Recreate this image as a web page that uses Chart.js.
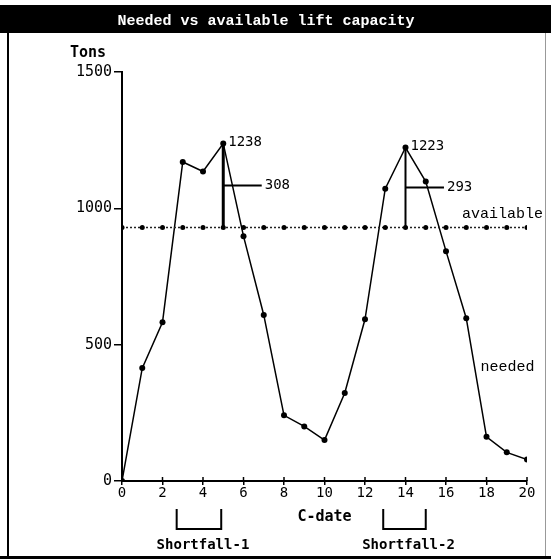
<!DOCTYPE html>
<html>
<head>
<meta charset="utf-8">
<script src="https://cdn.jsdelivr.net/npm/chart.js@4"></script>
<style>
  html, body { margin: 0; padding: 0; background: #fff; }
  #wrap { width: 551px; height: 559px; }
</style>
</head>
<body>
<div id="wrap"><canvas id="lift-chart" width="551" height="559"></canvas></div>
<script>
// Chart data
const cDates = [0, 1, 2, 3, 4, 5, 6, 7, 8, 9, 10, 11, 12, 13, 14, 15, 16, 17, 18, 19, 20];
const neededTons = [0, 414, 582, 1170, 1135, 1238, 898, 609, 241, 200, 150, 323, 593, 1072, 1223, 1098, 843, 597, 162, 105, 79];
const availableTons = [930, 930, 930, 930, 930, 930, 930, 930, 930, 930, 930, 930, 930, 930, 930, 930, 930, 930, 930, 930, 930];
const xTicks = [0, 2, 4, 6, 8, 10, 12, 14, 16, 18, 20];
const yTicks = [0, 500, 1000, 1500];
const peakDates = [5, 14];
const shortfallRanges = [[2.7, 4.9], [12.9, 15.0]];
const shortfallLabels = ['Shortfall-1', 'Shortfall-2'];

const monoFont = '"DejaVu Sans Mono", monospace';
const courierFont = '"Liberation Mono", monospace';

// Frame, title bar and annotations
const decorPlugin = {
  id: 'decor',
  beforeDraw(chart) {
    const { ctx, width, height } = chart;
    ctx.save();
    ctx.fillStyle = '#fff';
    ctx.fillRect(0, 0, width, height);
    ctx.fillStyle = '#000';
    ctx.fillRect(0, 5, width, 28);
    ctx.fillRect(7, 33, 2, height - 33);
    ctx.fillRect(0, height - 3, width, 3);
    ctx.fillStyle = '#999';
    ctx.fillRect(545, 33, 1, height - 36);

    ctx.fillStyle = '#fff';
    ctx.font = 'bold 15px ' + courierFont;
    ctx.textAlign = 'center';
    ctx.textBaseline = 'middle';
    ctx.fillText('Needed vs available lift capacity', 266, 21);

    ctx.fillStyle = '#000';
    ctx.font = 'bold 15px ' + monoFont;
    ctx.textAlign = 'left';
    ctx.fillText('Tons', 70, 53);
    ctx.restore();
  },
  afterDatasetsDraw(chart) {
    const { ctx } = chart;
    const xs = chart.scales.x;
    const ys = chart.scales.y;
    ctx.save();
    ctx.strokeStyle = '#000';
    ctx.fillStyle = '#000';

    // inner half of x ticks
    ctx.lineWidth = 1.5;
    xTicks.forEach(v => {
      const px = xs.getPixelForValue(v);
      ctx.beginPath();
      ctx.moveTo(px, ys.bottom - 4);
      ctx.lineTo(px, ys.bottom);
      ctx.stroke();
    });

    // peak drop lines and shortfall pointers
    peakDates.forEach((d, k) => {
      const i = cDates.indexOf(d);
      const peak = neededTons[i];
      const avail = availableTons[i];
      const px = xs.getPixelForValue(d);
      ctx.lineWidth = k === 0 ? 3 : 2;
      ctx.beginPath();
      ctx.moveTo(px, ys.getPixelForValue(avail));
      ctx.lineTo(px, ys.getPixelForValue(peak));
      ctx.stroke();

      const midY = ys.getPixelForValue((peak + avail) / 2);
      const endX = xs.getPixelForValue(d + 1.9);
      ctx.lineWidth = 2;
      ctx.beginPath();
      ctx.moveTo(px, midY);
      ctx.lineTo(endX, midY);
      ctx.stroke();

      ctx.font = '14px ' + monoFont;
      ctx.textAlign = 'left';
      ctx.textBaseline = 'middle';
      ctx.fillText(String(peak), px + 5, ys.getPixelForValue(peak) - 1);
      ctx.fillText(String(peak - avail), endX + 3, midY);
    });

    // series labels
    ctx.font = '15px ' + courierFont;
    ctx.textAlign = 'right';
    ctx.fillText('available', xs.getPixelForValue(20) + 16, ys.getPixelForValue(availableTons[20]) - 13);
    ctx.textAlign = 'left';
    ctx.fillText('needed', xs.getPixelForValue(17.7), ys.getPixelForValue(419));

    // x axis title
    ctx.font = 'bold 15px ' + monoFont;
    ctx.textAlign = 'center';
    ctx.fillText('C-date', (xs.left + xs.right) / 2, ys.bottom + 36);

    // shortfall brackets
    shortfallRanges.forEach((r, k) => {
      const x1 = xs.getPixelForValue(r[0]);
      const x2 = xs.getPixelForValue(r[1]);
      const top = ys.bottom + 28;
      const bot = ys.bottom + 48;
      ctx.lineWidth = 2;
      ctx.beginPath();
      ctx.moveTo(x1, top);
      ctx.lineTo(x1, bot);
      ctx.lineTo(x2, bot);
      ctx.lineTo(x2, top);
      ctx.stroke();
      ctx.font = 'bold 14px ' + monoFont;
      ctx.textAlign = 'center';
      ctx.fillText(shortfallLabels[k], (x1 + x2) / 2 + 4, ys.bottom + 64);
    });
    ctx.restore();
  }
};

const ctx = document.getElementById('lift-chart').getContext('2d');

new Chart(ctx, {
  type: 'line',
  data: {
    datasets: [
      {
        label: 'available',
        data: cDates.map((d, i) => ({ x: d, y: availableTons[i] })),
        borderColor: '#222',
        borderWidth: 1.5,
        borderDash: [2, 2],
        pointRadius: 2.5,
        pointBackgroundColor: '#000',
        pointBorderColor: '#000',
        pointBorderWidth: 0,
        tension: 0
      },
      {
        label: 'needed',
        data: cDates.map((d, i) => ({ x: d, y: neededTons[i] })),
        borderColor: '#000',
        borderWidth: 1.5,
        pointStyle: 'circle',
        pointRadius: 3,
        pointBackgroundColor: '#000',
        pointBorderColor: '#000',
        pointBorderWidth: 0,
        tension: 0
      }
    ]
  },
  options: {
    responsive: false,
    animation: false,
    events: [],
    layout: { padding: { top: 72, right: 24, left: 0, bottom: 0 } },
    scales: {
      x: {
        type: 'linear',
        min: 0,
        max: 20,
        afterBuildTicks: scale => { scale.ticks = xTicks.map(v => ({ value: v })); },
        afterFit: scale => { scale.height = 78; },
        border: { color: '#000', width: 2 },
        grid: { drawOnChartArea: false, tickLength: 4, color: '#000', lineWidth: 1.5 },
        ticks: {
          color: '#000',
          padding: 0,
          maxRotation: 0,
          autoSkip: false,
          callback: value => String(value),
          font: { family: monoFont, size: 14 }
        }
      },
      y: {
        type: 'linear',
        min: 0,
        max: 1500,
        afterBuildTicks: scale => { scale.ticks = yTicks.map(v => ({ value: v })); },
        afterFit: scale => { scale.width = 122; },
        border: { color: '#000', width: 2 },
        grid: { drawOnChartArea: false, tickLength: 8, color: '#000', lineWidth: 1.5 },
        ticks: {
          color: '#000',
          padding: 2,
          autoSkip: false,
          callback: value => String(value),
          font: { family: monoFont, size: 15 }
        }
      }
    },
    plugins: {
      legend: { display: false },
      tooltip: { enabled: false },
      title: { display: false }
    }
  },
  plugins: [decorPlugin]
});
</script>
</body>
</html>
